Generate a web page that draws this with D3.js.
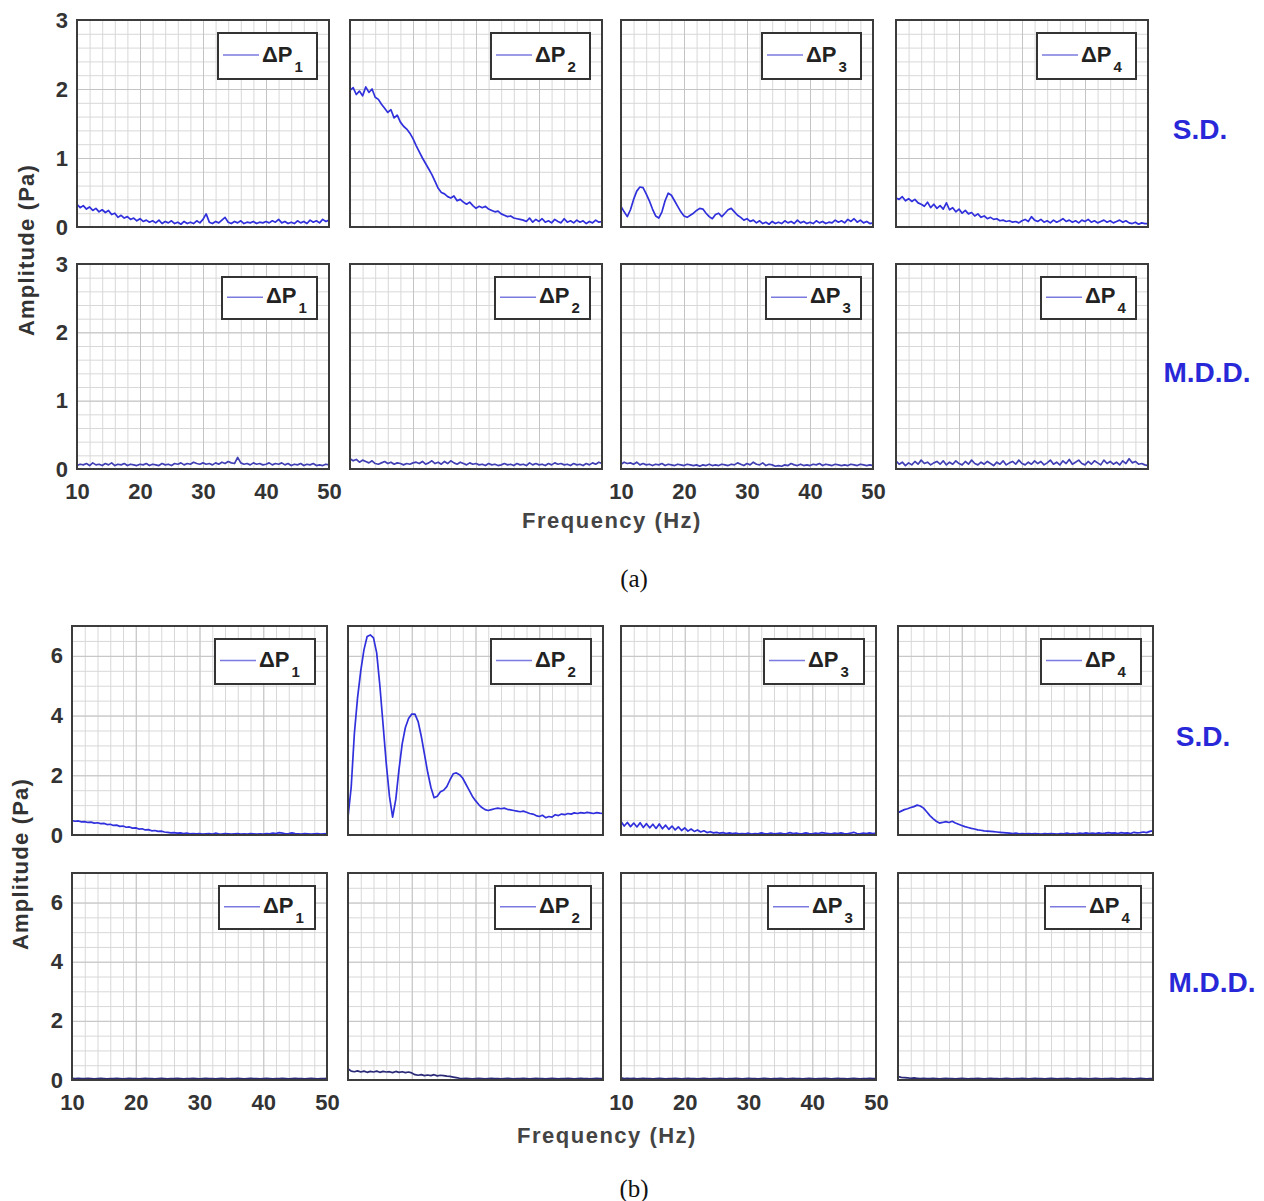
<!DOCTYPE html>
<html>
<head>
<meta charset="utf-8">
<script src="https://cdn.jsdelivr.net/npm/d3@7"></script>
<style>
  body { margin: 0; background: #fff; }
  text { font-family: "Liberation Sans", Arial, sans-serif; }
</style>
</head>
<body>
<script>
// frequency samples (Hz)
var freq = [10,10.5,11,11.5,12,12.5,13,13.5,14,14.5,15,15.5,16,16.5,17,17.5,18,18.5,19,19.5,
  20,20.5,21,21.5,22,22.5,23,23.5,24,24.5,25,25.5,26,26.5,27,27.5,28,28.5,29,29.5,
  30,30.5,31,31.5,32,32.5,33,33.5,34,34.5,35,35.5,36,36.5,37,37.5,38,38.5,39,39.5,
  40,40.5,41,41.5,42,42.5,43,43.5,44,44.5,45,45.5,46,46.5,47,47.5,48,48.5,49,49.5,50];

var xTicks = [10, 20, 30, 40, 50];
var aYTicks = [0, 1, 2, 3];
var bYTicks = [0, 2, 4, 6];
var subs = ["1", "2", "3", "4"];
var rowNames = ["S.D.", "M.D.D."];

// (a) S.D.
var aSD1 = [0.33,0.28,0.31,0.26,0.29,0.24,0.27,0.22,0.25,0.21,
  0.24,0.18,0.20,0.14,0.17,0.13,0.15,0.11,0.13,0.09,
  0.12,0.08,0.10,0.07,0.09,0.06,0.10,0.05,0.08,0.06,
  0.09,0.05,0.07,0.04,0.08,0.05,0.07,0.05,0.09,0.06,
  0.11,0.19,0.07,0.05,0.08,0.06,0.10,0.14,0.07,0.05,
  0.08,0.06,0.09,0.05,0.07,0.06,0.08,0.05,0.07,0.06,
  0.08,0.06,0.09,0.07,0.11,0.06,0.08,0.05,0.07,0.05,
  0.09,0.06,0.08,0.05,0.10,0.07,0.09,0.06,0.11,0.08,0.10];
var aSD2 = [1.98,2.02,1.92,1.97,1.90,2.03,1.95,2.00,1.88,1.85,
  1.78,1.72,1.66,1.70,1.58,1.62,1.52,1.46,1.42,1.36,
  1.28,1.18,1.09,1.00,0.92,0.84,0.76,0.66,0.56,0.50,
  0.48,0.44,0.42,0.45,0.38,0.40,0.36,0.33,0.36,0.31,
  0.27,0.30,0.28,0.30,0.26,0.24,0.22,0.23,0.19,0.17,
  0.15,0.16,0.13,0.12,0.11,0.10,0.08,0.13,0.07,0.11,
  0.08,0.12,0.07,0.09,0.06,0.11,0.08,0.06,0.12,0.07,
  0.09,0.06,0.10,0.07,0.09,0.05,0.08,0.06,0.10,0.07,0.08];
var aSD3 = [0.30,0.22,0.15,0.25,0.40,0.52,0.58,0.57,0.48,0.38,
  0.26,0.16,0.13,0.22,0.38,0.49,0.46,0.38,0.30,0.22,
  0.16,0.14,0.17,0.20,0.24,0.27,0.26,0.20,0.15,0.12,
  0.18,0.20,0.15,0.20,0.25,0.27,0.22,0.17,0.14,0.10,
  0.12,0.08,0.10,0.06,0.09,0.05,0.07,0.04,0.08,0.05,
  0.07,0.05,0.09,0.06,0.08,0.05,0.10,0.06,0.08,0.05,
  0.07,0.05,0.09,0.06,0.08,0.05,0.07,0.06,0.10,0.07,
  0.09,0.06,0.11,0.08,0.12,0.07,0.10,0.06,0.08,0.05,0.06];
var aSD4 = [0.42,0.40,0.44,0.38,0.41,0.37,0.40,0.35,0.33,0.30,
  0.36,0.28,0.33,0.27,0.31,0.26,0.35,0.25,0.28,0.22,
  0.26,0.20,0.24,0.19,0.21,0.16,0.19,0.14,0.16,0.12,
  0.14,0.11,0.12,0.09,0.10,0.08,0.09,0.07,0.08,0.06,
  0.09,0.11,0.08,0.15,0.10,0.08,0.11,0.07,0.09,0.06,
  0.10,0.07,0.09,0.12,0.08,0.10,0.07,0.09,0.06,0.10,
  0.08,0.11,0.07,0.09,0.06,0.08,0.10,0.07,0.09,0.06,
  0.08,0.10,0.07,0.09,0.06,0.05,0.07,0.04,0.06,0.05,0.05];

// (a) M.D.D.
var aMDD1 = [0.05,0.07,0.06,0.08,0.05,0.09,0.06,0.07,0.05,0.08,
  0.06,0.09,0.05,0.07,0.06,0.08,0.05,0.07,0.06,0.05,
  0.07,0.06,0.08,0.05,0.07,0.06,0.05,0.08,0.06,0.07,
  0.05,0.08,0.07,0.09,0.06,0.08,0.07,0.10,0.08,0.07,
  0.09,0.07,0.08,0.06,0.09,0.07,0.10,0.08,0.11,0.09,
  0.08,0.17,0.09,0.07,0.08,0.06,0.09,0.07,0.08,0.06,
  0.07,0.09,0.06,0.08,0.07,0.09,0.06,0.08,0.05,0.07,
  0.06,0.08,0.05,0.07,0.06,0.08,0.05,0.06,0.05,0.07,0.06];
var aMDD2 = [0.15,0.12,0.14,0.10,0.13,0.11,0.09,0.12,0.08,0.07,
  0.09,0.11,0.08,0.10,0.07,0.09,0.08,0.06,0.08,0.07,
  0.09,0.10,0.08,0.11,0.07,0.09,0.12,0.08,0.10,0.07,
  0.11,0.08,0.12,0.09,0.07,0.10,0.08,0.06,0.09,0.07,
  0.08,0.06,0.07,0.05,0.08,0.06,0.07,0.05,0.06,0.08,
  0.06,0.07,0.05,0.08,0.06,0.07,0.05,0.09,0.06,0.08,
  0.06,0.07,0.05,0.08,0.06,0.09,0.07,0.08,0.06,0.07,
  0.05,0.08,0.06,0.07,0.05,0.08,0.06,0.09,0.07,0.10,0.08];
var aMDD3 = [0.07,0.10,0.08,0.09,0.07,0.10,0.06,0.08,0.06,0.07,
  0.05,0.07,0.06,0.08,0.05,0.07,0.06,0.05,0.07,0.06,
  0.05,0.07,0.06,0.05,0.06,0.04,0.06,0.05,0.07,0.05,
  0.06,0.05,0.07,0.06,0.05,0.07,0.06,0.09,0.07,0.05,
  0.08,0.06,0.10,0.07,0.06,0.09,0.05,0.07,0.06,0.04,
  0.05,0.04,0.06,0.05,0.08,0.06,0.05,0.07,0.05,0.06,
  0.05,0.07,0.06,0.08,0.05,0.07,0.06,0.05,0.07,0.06,
  0.05,0.06,0.05,0.07,0.06,0.05,0.07,0.06,0.05,0.06,0.05];
var aMDD4 = [0.12,0.07,0.10,0.05,0.09,0.06,0.11,0.07,0.13,0.08,
  0.10,0.06,0.09,0.11,0.07,0.12,0.06,0.10,0.07,0.12,
  0.08,0.06,0.11,0.07,0.13,0.08,0.06,0.10,0.07,0.11,
  0.08,0.05,0.10,0.07,0.12,0.06,0.09,0.11,0.07,0.13,
  0.08,0.06,0.10,0.07,0.12,0.08,0.11,0.06,0.09,0.13,
  0.07,0.10,0.06,0.12,0.08,0.14,0.07,0.10,0.13,0.08,
  0.06,0.11,0.07,0.12,0.09,0.06,0.13,0.08,0.11,0.07,
  0.10,0.06,0.12,0.08,0.15,0.09,0.11,0.07,0.08,0.06,0.05];

// (b) S.D.
var bSD1 = [0.48,0.46,0.47,0.44,0.45,0.42,0.43,0.40,0.41,0.38,
  0.39,0.35,0.36,0.32,0.33,0.29,0.30,0.26,0.27,0.23,
  0.24,0.20,0.21,0.17,0.18,0.14,0.15,0.12,0.13,0.10,
  0.09,0.07,0.08,0.06,0.07,0.05,0.06,0.04,0.05,0.04,
  0.05,0.03,0.04,0.05,0.03,0.06,0.04,0.03,0.05,0.04,
  0.03,0.04,0.05,0.03,0.04,0.03,0.05,0.04,0.03,0.04,
  0.03,0.05,0.04,0.06,0.05,0.08,0.06,0.04,0.05,0.07,
  0.05,0.04,0.03,0.05,0.04,0.03,0.04,0.05,0.03,0.04,0.05];
var bSD2 = [0.60,1.60,3.40,4.60,5.50,6.20,6.65,6.70,6.60,6.10,
  5.00,3.70,2.40,1.30,0.60,1.20,2.20,3.05,3.60,3.90,
  4.05,4.05,3.80,3.30,2.70,2.10,1.60,1.25,1.30,1.45,
  1.50,1.62,1.85,2.05,2.08,2.02,1.90,1.70,1.50,1.30,
  1.15,1.02,0.92,0.85,0.82,0.85,0.88,0.90,0.88,0.90,
  0.86,0.84,0.82,0.80,0.78,0.80,0.76,0.72,0.70,0.65,
  0.62,0.66,0.58,0.62,0.60,0.68,0.65,0.70,0.68,0.72,
  0.70,0.74,0.72,0.75,0.73,0.76,0.74,0.72,0.75,0.73,0.72];
var bSD3 = [0.45,0.30,0.42,0.28,0.40,0.27,0.41,0.25,0.38,0.24,
  0.36,0.22,0.37,0.21,0.33,0.19,0.30,0.17,0.27,0.15,
  0.24,0.13,0.20,0.12,0.17,0.10,0.14,0.08,0.11,0.07,
  0.09,0.06,0.08,0.05,0.07,0.05,0.06,0.04,0.05,0.04,
  0.06,0.03,0.05,0.04,0.07,0.05,0.04,0.06,0.04,0.05,
  0.06,0.04,0.05,0.08,0.05,0.06,0.04,0.05,0.07,0.05,
  0.04,0.06,0.05,0.08,0.06,0.05,0.04,0.06,0.05,0.07,
  0.05,0.04,0.06,0.09,0.05,0.04,0.06,0.05,0.07,0.05,0.06];
var bSD4 = [0.75,0.80,0.85,0.88,0.92,0.95,1.00,0.97,0.90,0.78,
  0.65,0.55,0.46,0.40,0.42,0.45,0.42,0.46,0.40,0.36,
  0.32,0.28,0.25,0.22,0.20,0.17,0.16,0.14,0.13,0.12,
  0.11,0.10,0.09,0.08,0.07,0.06,0.05,0.06,0.04,0.05,
  0.04,0.05,0.04,0.05,0.04,0.03,0.05,0.04,0.05,0.04,
  0.03,0.05,0.04,0.06,0.04,0.05,0.04,0.06,0.05,0.07,
  0.05,0.06,0.05,0.07,0.05,0.06,0.08,0.06,0.07,0.05,
  0.08,0.06,0.07,0.05,0.09,0.07,0.08,0.10,0.08,0.12,0.14];

// (b) M.D.D.
var bMDD1 = [0.06,0.05,0.06,0.05,0.05,0.06,0.05,0.04,0.05,0.06,
  0.05,0.04,0.05,0.05,0.06,0.05,0.04,0.05,0.06,0.05,
  0.05,0.04,0.05,0.06,0.05,0.05,0.04,0.05,0.06,0.05,
  0.04,0.05,0.05,0.06,0.05,0.04,0.05,0.05,0.06,0.05,
  0.04,0.05,0.06,0.05,0.05,0.04,0.05,0.06,0.05,0.04,
  0.05,0.05,0.06,0.05,0.04,0.05,0.06,0.05,0.05,0.04,
  0.05,0.06,0.05,0.04,0.05,0.05,0.06,0.05,0.04,0.05,
  0.06,0.05,0.05,0.04,0.05,0.06,0.05,0.04,0.05,0.05,0.06];
var bMDD2 = [0.38,0.30,0.28,0.31,0.27,0.30,0.26,0.29,0.27,0.30,
  0.26,0.29,0.27,0.28,0.25,0.29,0.26,0.28,0.25,0.27,
  0.24,0.18,0.16,0.18,0.15,0.17,0.15,0.18,0.14,0.16,
  0.15,0.13,0.12,0.10,0.08,0.06,0.05,0.06,0.05,0.04,
  0.05,0.06,0.05,0.04,0.05,0.06,0.05,0.05,0.04,0.05,
  0.06,0.05,0.04,0.05,0.05,0.06,0.05,0.04,0.05,0.06,
  0.05,0.05,0.04,0.05,0.06,0.05,0.04,0.05,0.05,0.06,
  0.05,0.04,0.05,0.06,0.05,0.05,0.04,0.05,0.06,0.05,0.05];
var bMDD3 = [0.07,0.05,0.06,0.05,0.06,0.04,0.05,0.06,0.05,0.05,
  0.04,0.05,0.06,0.05,0.04,0.05,0.05,0.06,0.05,0.04,
  0.05,0.06,0.05,0.05,0.04,0.05,0.06,0.05,0.04,0.05,
  0.05,0.06,0.05,0.04,0.05,0.05,0.06,0.05,0.04,0.05,
  0.06,0.05,0.05,0.04,0.05,0.06,0.05,0.04,0.05,0.05,
  0.06,0.05,0.04,0.05,0.06,0.05,0.05,0.04,0.05,0.06,
  0.05,0.04,0.05,0.05,0.06,0.05,0.04,0.05,0.06,0.05,
  0.05,0.04,0.05,0.06,0.05,0.04,0.05,0.05,0.06,0.05,0.05];
var bMDD4 = [0.12,0.09,0.08,0.07,0.06,0.07,0.06,0.05,0.06,0.05,
  0.05,0.06,0.05,0.04,0.05,0.06,0.05,0.05,0.04,0.05,
  0.06,0.05,0.04,0.05,0.05,0.06,0.05,0.04,0.05,0.06,
  0.05,0.05,0.04,0.05,0.06,0.05,0.04,0.05,0.05,0.06,
  0.05,0.04,0.05,0.06,0.05,0.05,0.04,0.05,0.06,0.05,
  0.04,0.05,0.05,0.06,0.05,0.04,0.05,0.06,0.05,0.05,
  0.04,0.05,0.06,0.05,0.04,0.05,0.05,0.06,0.05,0.04,
  0.05,0.06,0.05,0.05,0.04,0.05,0.06,0.05,0.04,0.05,0.05];

var svg = d3.select("body").append("svg")
  .attr("width", 1264)
  .attr("height", 1201);

// layout of the two figure parts
var parts = [
  {
    caption: "(a)", capX: 634, capY: 578,
    yMax: 3, yTicks: aYTicks, yMinor: 0.2,
    cols: [77, 350, 621, 896], w: 252,
    rows: [{ top: 20, h: 207, legW: 99, legH: 46, labelX: 1200 },
           { top: 264, h: 205, legW: 95, legH: 42, labelX: 1207 }],
    series: [[aSD1, aSD2, aSD3, aSD4], [aMDD1, aMDD2, aMDD3, aMDD4]],
    colors: ["#3030dc", "#4040b4"],
    ampY: 250, ampX: 26, freqX: 612, freqY: 528
  },
  {
    caption: "(b)", capX: 634, capY: 1188,
    yMax: 7, yTicks: bYTicks, yMinor: 0.5,
    cols: [72, 348, 621, 898], w: 255,
    rows: [{ top: 626, h: 209, legW: 100, legH: 45, labelX: 1203 },
           { top: 873, h: 207, legW: 96, legH: 43, labelX: 1212 }],
    series: [[bSD1, bSD2, bSD3, bSD4], [bMDD1, bMDD2, bMDD3, bMDD4]],
    colors: ["#3030dc", "#2a2a78"],
    ampY: 864, ampX: 20, freqX: 607, freqY: 1143
  }
];

function drawPanel(p, r, c) {
  var row = p.rows[r];
  var w = p.w, h = row.h;
  var g = svg.append("g")
    .attr("transform", "translate(" + p.cols[c] + "," + row.top + ")");

  var x = d3.scaleLinear().domain([10, 50]).range([0, w]);
  var y = d3.scaleLinear().domain([0, p.yMax]).range([h, 0]);

  // minor grid
  var gx = g.append("g")
    .call(d3.axisBottom(x).tickValues(d3.range(12, 50, 2)).tickSize(h).tickFormat(""));
  var gy = g.append("g")
    .call(d3.axisRight(y).tickValues(d3.range(p.yMinor, p.yMax - 1e-6, p.yMinor)).tickSize(w).tickFormat(""));
  [gx, gy].forEach(function (s) {
    s.select(".domain").remove();
    s.selectAll("line").attr("stroke", "#d8d8d8").attr("stroke-width", 1);
  });

  // major grid
  var mx = g.append("g")
    .call(d3.axisBottom(x).tickValues([20, 30, 40]).tickSize(h).tickFormat(""));
  var my = g.append("g")
    .call(d3.axisRight(y).tickValues(p.yTicks.slice(1)).tickSize(w).tickFormat(""));
  [mx, my].forEach(function (s) {
    s.select(".domain").remove();
    s.selectAll("line").attr("stroke", "#c4c4c4").attr("stroke-width", 1);
  });

  // data line
  var line = d3.line()
    .x(function (d, i) { return x(freq[i]); })
    .y(function (d) { return y(d); });

  g.append("path")
    .datum(p.series[r][c])
    .attr("fill", "none")
    .attr("stroke", p.colors[r])
    .attr("stroke-width", 1.7)
    .attr("stroke-linejoin", "round")
    .attr("d", line);

  // frame
  g.append("rect")
    .attr("width", w).attr("height", h)
    .attr("fill", "none")
    .attr("stroke", "#3c3c3c")
    .attr("stroke-width", 2);

  // legend
  var lg = g.append("g")
    .attr("transform", "translate(" + (w - 12 - row.legW) + ",13)");
  lg.append("rect")
    .attr("width", row.legW).attr("height", row.legH)
    .attr("fill", "#fff")
    .attr("stroke", "#333")
    .attr("stroke-width", 2);
  lg.append("line")
    .attr("x1", 5).attr("x2", 41)
    .attr("y1", row.legH * 0.48).attr("y2", row.legH * 0.48)
    .attr("stroke", "#7a7ae0").attr("stroke-width", 1.5);
  var lt = lg.append("text")
    .attr("x", 44).attr("y", row.legH * 0.62)
    .attr("font-size", 22).attr("font-weight", "bold").attr("fill", "#222");
  lt.append("tspan").text("ΔP");
  lt.append("tspan").attr("dx", 2).attr("dy", 10).attr("font-size", 15).text(subs[c]);

  // y tick labels
  if (c === 0) {
    var ya = g.append("g")
      .call(d3.axisLeft(y).tickValues(p.yTicks).tickFormat(d3.format("d")).tickSize(0).tickPadding(9));
    ya.select(".domain").remove();
    ya.selectAll("text")
      .attr("font-size", 22).attr("font-weight", "bold").attr("fill", "#333")
      .style("font-family", "'Liberation Sans', Arial, sans-serif");
  }

  // x tick labels
  if (r === 1 && (c === 0 || c === 2)) {
    var xa = g.append("g")
      .attr("transform", "translate(0," + h + ")")
      .call(d3.axisBottom(x).tickValues(xTicks).tickFormat(d3.format("d")).tickSize(0).tickPadding(14));
    xa.select(".domain").remove();
    xa.selectAll("text")
      .attr("font-size", 22).attr("font-weight", "bold").attr("fill", "#333")
      .style("font-family", "'Liberation Sans', Arial, sans-serif");
  }
}

parts.forEach(function (p) {
  for (var r = 0; r < 2; r++) {
    for (var c = 0; c < 4; c++) {
      drawPanel(p, r, c);
    }
    svg.append("text")
      .attr("x", p.rows[r].labelX)
      .attr("y", p.rows[r].top + p.rows[r].h / 2 + 6)
      .attr("text-anchor", "middle")
      .attr("dominant-baseline", "central")
      .attr("font-size", 28).attr("font-weight", "bold")
      .attr("fill", "#2828d8")
      .text(rowNames[r]);
  }

  svg.append("text")
    .attr("transform", "translate(" + p.ampX + "," + p.ampY + ") rotate(-90)")
    .attr("text-anchor", "middle")
    .attr("dominant-baseline", "central")
    .attr("font-size", 22).attr("font-weight", "bold")
    .attr("letter-spacing", 1.2)
    .attr("fill", "#333")
    .text("Amplitude (Pa)");

  svg.append("text")
    .attr("x", p.freqX).attr("y", p.freqY)
    .attr("text-anchor", "middle")
    .attr("font-size", 22).attr("font-weight", "bold")
    .attr("letter-spacing", 1.5)
    .attr("fill", "#444")
    .text("Frequency (Hz)");

  svg.append("text")
    .attr("x", p.capX).attr("y", p.capY)
    .attr("text-anchor", "middle")
    .attr("dominant-baseline", "central")
    .attr("font-size", 25)
    .style("font-family", "'Liberation Serif', 'Times New Roman', serif")
    .attr("fill", "#111")
    .text(p.caption);
});
</script>
</body>
</html>
